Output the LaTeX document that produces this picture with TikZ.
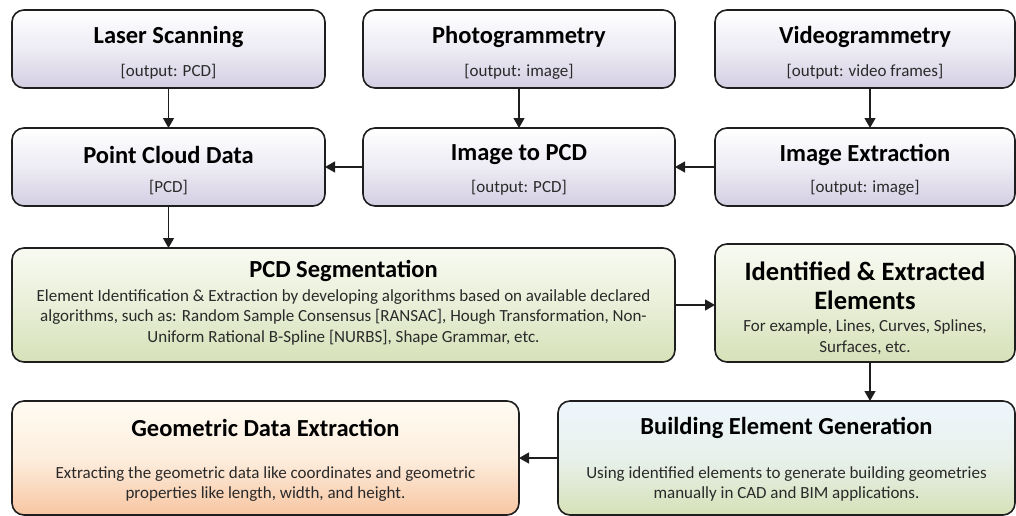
\documentclass[tikz,border=0pt]{standalone}
\usepackage{fontspec}
\setmainfont{Carlito}
\usetikzlibrary{arrows.meta}
\definecolor{edge}{HTML}{1E1E1E}
\definecolor{lavbot}{HTML}{D3CEE3}
\definecolor{grnbot}{HTML}{D6E1B8}
\definecolor{grntop}{HTML}{F8FAF2}
\definecolor{peachtop}{HTML}{FFFBF2}
\definecolor{peachbot}{HTML}{F7C6A2}
\definecolor{bluetop}{HTML}{EEF6FC}
\definecolor{bodytext}{HTML}{2A2A2A}
\begin{document}
\begin{tikzpicture}[x=1pt,y=-1pt,
  box/.style={draw=edge, line width=1.6pt, rounded corners=12pt, rectangle,
    inner sep=0pt, outer sep=0pt},
  lavbox/.style={box, top color=white, bottom color=lavbot, middle color=white!60!lavbot},
  grnbox/.style={box, top color=grntop, bottom color=grnbot, middle color=grntop!55!grnbot},
  peachbox/.style={box, top color=peachtop, bottom color=peachbot, middle color=peachtop!75!peachbot},
  bluebox/.style={box, top color=bluetop, bottom color=grnbot, middle color=bluetop!75!grnbot},
  ttl/.style={font=\fontsize{24.5}{28}\selectfont\bfseries, text=black, align=center, inner sep=0pt},
  sub/.style={font=\fontsize{17}{20}\selectfont, text=bodytext, align=center, inner sep=0pt},
  body/.style={font=\fontsize{17}{20.5}\selectfont, text=bodytext, align=center, inner sep=0pt},
  arr/.style={draw=edge, line width=1.3pt, -{Triangle[length=10pt,width=11pt]}}
]
\useasboundingbox (0,0) rectangle (1016,516);

% row 1: capture methods
\node[lavbox, minimum width=313pt, minimum height=78pt] (ls) at (168.5,49) {};
\node[lavbox, minimum width=312pt, minimum height=78pt] (pg) at (519,49) {};
\node[lavbox, minimum width=300pt, minimum height=78pt] (vg) at (865,49) {};
\node[ttl] (lsT) at (168.5,37) {Laser Scanning};
\node[sub] (lsS) at (168.5,72) {[output: PCD]};
\node[ttl] (pgT) at (519,37) {Photogrammetry};
\node[sub] (pgS) at (519,72) {[output: image]};
\node[ttl] (vgT) at (865,37) {Videogrammetry};
\node[sub] (vgS) at (865,72) {[output: video frames]};

% row 2: conversion to point clouds
\node[lavbox, minimum width=313pt, minimum height=78pt] (pcd) at (168.5,167) {};
\node[lavbox, minimum width=312pt, minimum height=78pt] (i2p) at (519,167) {};
\node[lavbox, minimum width=300pt, minimum height=78pt] (ie) at (865,167) {};
\node[ttl] (pcdT) at (168.5,155) {Point Cloud Data};
\node[sub] (pcdS) at (168.5,188) {[PCD]};
\node[ttl] (i2pT) at (519,155) {Image to PCD};
\node[sub] (i2pS) at (519,188) {[output: PCD]};
\node[ttl] (ieT) at (865,155) {Image Extraction};
\node[sub] (ieS) at (865,188) {[output: image]};

% row 3: segmentation
\node[grnbox, minimum width=663pt, minimum height=114pt] (seg) at (343.5,305) {};
\node[grnbox, minimum width=300pt, minimum height=118pt] (ide) at (865,303) {};
\node[ttl] (segT) at (343.5,271) {PCD Segmentation};
\node[body] (segB) at (343.5,317) {Element Identification \& Extraction by developing algorithms based on available declared\\
  algorithms, such as: Random Sample Consensus [RANSAC], Hough Transformation, Non-\\
  Uniform Rational B-Spline [NURBS], Shape Grammar, etc.};
\node[ttl, font=\fontsize{26.5}{29}\selectfont\bfseries] (ideT) at (865,286) {Identified \& Extracted\\Elements};
\node[body] (ideB) at (865,337) {For example, Lines, Curves, Splines,\\Surfaces, etc.};

% row 4: modelling and extraction
\node[peachbox, minimum width=507pt, minimum height=114pt] (geo) at (265.5,458) {};
\node[bluebox, minimum width=457pt, minimum height=114pt] (bld) at (786.5,458) {};
\node[ttl] (geoT) at (265.5,428) {Geometric Data Extraction};
\node[body] (geoB) at (265.5,484) {Extracting the geometric data like coordinates and geometric\\properties like length, width, and height.};
\node[ttl] (bldT) at (786.5,428) {Building Element Generation};
\node[body] (bldB) at (786.5,484) {Using identified elements to generate building geometries\\manually in CAD and BIM applications.};

% vertical line shared by the right-hand arrows
\coordinate (rx) at (870,0);

% connectors
\draw[arr] (ls.south) -- (pcd.north);
\draw[arr] (pg.south) -- (i2p.north);
\draw[arr] (vg.south -| rx) -- (ie.north -| rx);
\draw[arr] (ie.west) -- (i2p.east);
\draw[arr] (i2p.west) -- (pcd.east);
\draw[arr] (pcd.south) -- (pcd.south |- seg.north);
\draw[arr] (seg.east) -- (seg.east -| ide.west);
\draw[arr] (ide.south -| rx) -- (bld.north -| rx);
\draw[arr] (bld.west) -- (geo.east);
\end{tikzpicture}
\end{document}
